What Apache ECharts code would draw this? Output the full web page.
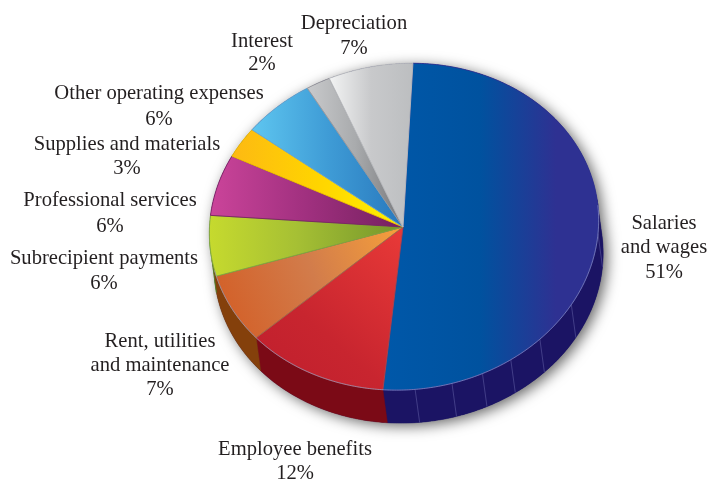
<!DOCTYPE html>
<html>
<head>
<meta charset="utf-8">
<style>html,body{margin:0;padding:0;background:#fff}#chart{width:708px;height:481px}</style>
<script src="https://cdn.jsdelivr.net/npm/echarts@6/dist/echarts.min.js"></script>
</head>
<body>
<div id="chart"></div>
<script>
// Expense shares, clockwise from the start of the largest slice
const categories = ['Salaries\nand wages', 'Employee benefits', 'Rent, utilities\nand maintenance',
  'Subrecipient payments', 'Professional services', 'Supplies and materials',
  'Other operating expenses', 'Interest', 'Depreciation'];
const values = [51, 12, 7, 6, 6, 3, 6, 2, 7];

// Disc projection: slices meet at the apex, which sits just left of the ellipse centre
const disc = { apexX: 403, apexY: 227, cx: 404, cy: 226.7, rx: 195, ry: 163, tilt: -6.3, startDeg: 7.9, dropX: 4.5, dropY: 33 };

// Top face gradients: [direction x, y, x2, y2, stops...]
const topFills = [
  [0, 0, 1, 0, [0, '#0058a9'], [0.45, '#00529f'], [0.8, '#2e3192'], [1, '#2e3192']],
  [1, 0, 0, 1, [0, '#e93a38'], [0.6, '#c8252f'], [1, '#bf1e2d']],
  [0, 0.7, 1, 0, [0, '#d35f27'], [0.5, '#d27c4b'], [1, '#f7a13a']],
  [0, 0, 1, 0, [0, '#c6da2e'], [0.45, '#a6c034'], [1, '#73952b']],
  [0, 0, 1, 0, [0, '#cb449a'], [0.5, '#a0307f'], [1, '#74205f']],
  [0, 0, 1, 0, [0, '#fdb913'], [0.5, '#ffd400'], [1, '#fff200']],
  [0, 0, 1, 0, [0, '#5ec6f0'], [0.5, '#3f9cd6'], [1, '#2878bd']],
  [0, 0, 1, 0, [0, '#c9cacc'], [0.5, '#a9abad'], [1, '#77787b']],
  [0, 0, 1, 0, [0, '#f3f4f4'], [0.5, '#c8c9cb'], [1, '#bcbec0']]
];
const topEdges = ['#2e3192', '#a8484e', '#a06a4a', '#7fa83f', '#7a2163', '#f2c200', '#6aa7d2', '#98999b', '#b9bbbd'];
const wallColors = ['#1b1464', '#7b0a16', '#84400b', '#4f8a2e', '#5c1a4c', '#c29400', '#1f5f96', '#66676a', '#8a8c8e'];

// Panel seams on the side of the largest slice, in degrees clockwise from the top
const wallSeams = [100, 126, 141, 152, 161.5, 171, 182];
// The brown wall runs on under the green one, leaving only a thin green sliver
const wallOverrun = 6;

// Label placement: centre x, first row y, row spacing
const labelSpots = [
  [664, 223.5, 24.5], [295, 449.5, 24], [160, 341.5, 24],
  [104, 259, 24.5], [110, 200.5, 26.5], [127, 144.5, 24],
  [159, 93.5, 26], [262, 41.5, 23.5], [354, 23.5, 25]
];

const total = values.reduce((a, b) => a + b, 0);
const cumulative = [];
values.reduce((sum, v, i) => (cumulative[i] = sum, sum + v), 0);
const toAngle = share => disc.startDeg + share / total * 360;

const sinT = Math.sin(disc.tilt * Math.PI / 180), cosT = Math.cos(disc.tilt * Math.PI / 180);
function rim(deg, drop) {
  const t = deg * Math.PI / 180;
  const x = disc.rx * Math.sin(t), y = -disc.ry * Math.cos(t);
  return [
    disc.cx + x * cosT - y * sinT + (drop ? disc.dropX : 0),
    disc.cy + x * sinT + y * cosT + (drop ? disc.dropY : 0)
  ];
}
function arc(from, to, drop) {
  const n = Math.max(2, Math.ceil(Math.abs(to - from) * 2));
  const pts = [];
  for (let i = 0; i <= n; i++) pts.push(rim(from + (to - from) * i / n, drop));
  return pts;
}
const wallOutline = (a, b) => arc(a, b, false).concat(arc(b, a, true));
// Outer hull of the solid: back half of the upper rim, front half of the lower rim
const hull = () => arc(272, 448, false).concat(arc(88, 272, true));

const sliceSpan = i => [toAngle(cumulative[i]), toAngle(cumulative[i] + values[i])];

function gradient(f) {
  return { type: 'linear', x: f[0], y: f[1], x2: f[2], y2: f[3],
    colorStops: f.slice(4).map(s => ({ offset: s[0], color: s[1] })) };
}

const none = { coordinateSystem: 'none', silent: true, animation: false };

const option = {
  animation: false,
  series: [
    { // soft drop shadow under the whole solid
      type: 'custom', ...none, data: [1],
      renderItem: () => ({
        type: 'polygon', shape: { points: hull() },
        style: { fill: '#1b1464', shadowColor: 'rgba(0,0,0,0.6)', shadowBlur: 14, shadowOffsetX: 4, shadowOffsetY: 3 }
      })
    },
    { // side walls: only the front half of the rim is visible
      type: 'custom', ...none, data: values,
      renderItem: (params) => {
        const i = params.dataIndex, [a, b] = sliceSpan(i);
        const from = Math.max(i === 3 ? a + wallOverrun : a, 88);
        const to = Math.min(i === 2 ? b + wallOverrun : b, 272);
        if (to <= from) return null;
        return { type: 'polygon', shape: { points: wallOutline(from, to) },
          style: { fill: wallColors[i], stroke: wallColors[i], lineWidth: 0.5 } };
      }
    },
    { // panel seams on the wall
      type: 'custom', ...none, data: wallSeams,
      renderItem: (params, api) => {
        const deg = api.value(0), p = rim(deg, false), q = rim(deg, true);
        return { type: 'line', shape: { x1: p[0], y1: p[1], x2: q[0], y2: q[1] },
          style: { stroke: '#4b4790', lineWidth: 0.8 } };
      }
    },
    { // top face of each slice
      type: 'custom', ...none, data: values,
      renderItem: (params) => {
        const i = params.dataIndex, [a, b] = sliceSpan(i);
        return { type: 'polygon', shape: { points: [[disc.apexX, disc.apexY]].concat(arc(a, b, false)) },
          style: { fill: gradient(topFills[i]), stroke: topEdges[i], lineWidth: 0.9, lineJoin: 'round' } };
      }
    },
    { // pale highlight along the front rim of the top face
      type: 'custom', ...none, data: [1],
      renderItem: () => ({
        type: 'polyline', shape: { points: arc(90, 262, false) },
        style: { fill: null, stroke: 'rgba(170,175,215,0.6)', lineWidth: 0.9 }
      })
    },
    { // name and share labels
      type: 'custom', ...none, data: values,
      renderItem: (params, api) => {
        const i = params.dataIndex, [x, y, step] = labelSpots[i];
        const lines = categories[i].split('\n').concat(api.value(0) + '%');
        return { type: 'group', children: lines.map((line, k) => ({
          type: 'text', x: x, y: y + k * step,
          style: { text: line, fill: '#231f20', font: '20.6px "Liberation Serif"', align: 'center', verticalAlign: 'middle' }
        })) };
      }
    }
  ]
};

echarts.init(document.getElementById('chart'), null, { renderer: 'canvas' }).setOption(option);
</script>
</body>
</html>
